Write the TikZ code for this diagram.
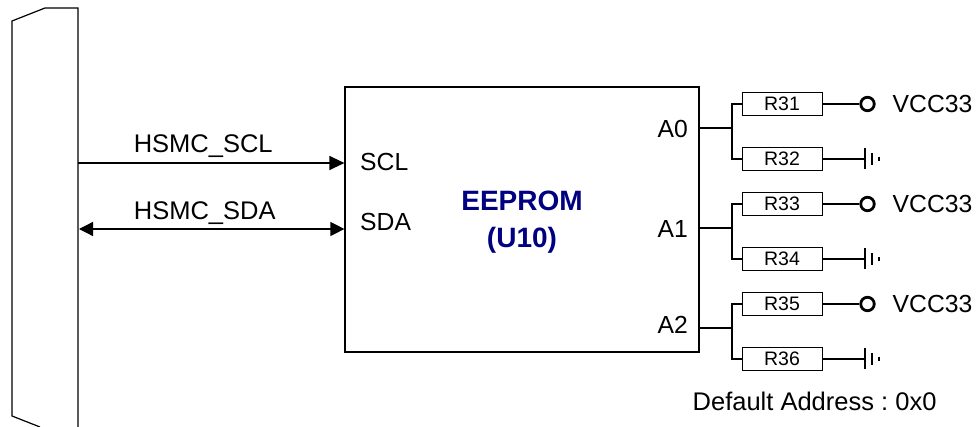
\documentclass[tikz,border=0pt]{standalone}
\usepackage{fontspec}
\setmainfont{Liberation Sans}
\usetikzlibrary{arrows.meta}
\definecolor{eepromblue}{RGB}{0,0,128}
\frenchspacing
\tikzset{
    wire/.style={draw, line width=1.3pt}, % Signal lines
    bus/.style={wire, {Triangle[length=14pt,width=14pt]}-{Triangle[length=14pt,width=14pt]}},
    busright/.style={wire, -{Triangle[length=15pt,width=14pt]}},
    txt/.style={inner sep=0pt, anchor=base west, font=\fontsize{24.7}{28}\selectfont}, % Labels
    bigtxt/.style={txt, font=\fontsize{25.5}{28}\selectfont},
    title/.style={inner sep=0pt, align=center, text=eepromblue, font=\fontsize{28}{37}\selectfont\bfseries},
    resbox/.style={draw, line width=0.8pt, minimum width=80pt, minimum height=23pt, inner sep=0pt, font=\fontsize{19.5}{22}\selectfont},
    vccdot/.style={circle, draw, line width=2.8pt, minimum size=13.5pt, inner sep=0pt},
    gnd/.pic={
        \draw[line width=1.1pt] (0,-10.5) -- (0,10.5);
        \draw[line width=1.1pt] (7,-6) -- (7,6);
        \draw[line width=1.1pt] (14,-2) -- (14,2);
    }
}
\begin{document}
\begin{tikzpicture}[x=1pt, y=-1pt]
    \useasboundingbox (0,0) rectangle (980,427);
    % Connector on the left
    \draw[line width=1.2pt] (40,427) -- (12,416) -- (12,21) -- (45,8) -- (78,8) -- (78,427);
    \coordinate (sclstart) at (78,163);
    \coordinate (sdastart) at (79,229);

    % EEPROM
    \node (eeprom) [draw, line width=1.2pt, minimum width=354pt, minimum height=265pt, inner sep=0pt] at (522,219.5) {};
    \node (name) [title] at (522,222.5) {EEPROM\\(U10)};
    \node (scl) [txt] at (360,171) {SCL};
    \node (sda) [txt] at (360,231) {SDA};
    \coordinate (sclend) at (eeprom.west |- sclstart);
    \coordinate (sdaend) at (eeprom.west |- sdastart);

    \draw[busright] (sclstart) -- node (sclname) [bigtxt, anchor=base, xshift=-8pt, yshift=10pt] {HSMC\_SCL} (sclend);
    \draw[bus] (sdastart) -- node (sdaname) [bigtxt, anchor=base, xshift=-7pt, yshift=9pt] {HSMC\_SDA} (sdaend);

    % Address pins, each with a pull up and a pull down
    \foreach \ra/\rb/\ytop/\ybot/\pin/\ypin/\ytxt in {31/32/104/159/A0/128/138, 33/34/204/259/A1/228/238, 35/36/304/359/A2/328/334}{
        \node (r\ra) [resbox] at (782,\ytop) {R\ra};
        \node (r\rb) [resbox] at (782,\ybot) {R\rb};
        \node (p\ra) [txt, anchor=base east] at (688,\ytxt) {\pin};
        \coordinate (pin\ra) at (eeprom.east |- 0,\ypin);
        \coordinate (fork\ra) at (732,\ypin);
        \node (vcc\ra) [vccdot] at (867.5,\ytop) {};
        \node (vlabel\ra) [txt] at (892.5,\ytop+8.5) {VCC33};
        \coordinate (g\rb) at (865,\ybot);
        \draw[wire] (pin\ra) -- (fork\ra);
        \draw[wire] (r\ra.west) -| (fork\ra) |- (r\rb.west);
        \draw[wire] (r\ra.east) -- (vcc\ra.west);
        \draw[wire] (r\rb.east) -- (g\rb);
        \pic at (g\rb) {gnd};
    }

    \node (addr) [bigtxt] at (692.5,411) {Default Address : 0x0};
\end{tikzpicture}
\end{document}
